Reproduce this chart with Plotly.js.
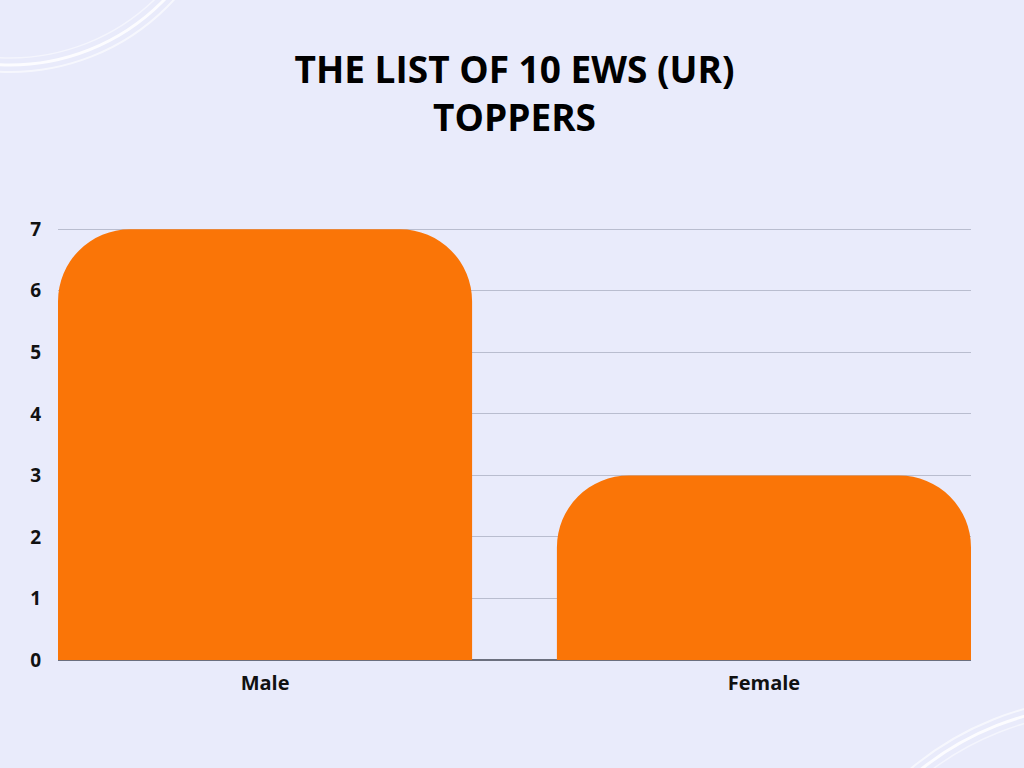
<!DOCTYPE html>
<html>
<head>
<meta charset="utf-8">
<script src="https://cdn.plot.ly/plotly-3.0.1.min.js"></script>
<style>
  html, body { margin: 0; padding: 0; background: #E9EBFB; }
  #chart { width: 1024px; height: 768px; }
</style>
</head>
<body>
<div id="chart"></div>
<script>
const categories = ["Male", "Female"];
const counts = [7, 3];
const yTicks = [0, 1, 2, 3, 4, 5, 6, 7];
const chartTitle = "THE LIST OF 10 EWS (UR)<br>TOPPERS";

const W = 1024, H = 768;
const L = 58, R = 53, T = 217, B = 108;
const pw = W - L - R, ph = H - T - B;
function px(x) { return (x - L) / pw; }
function py(y) { return (H - B - y) / ph; }
function circ(cx, cy, r, w, op) {
  return { type: 'circle', xref: 'paper', yref: 'paper', layer: 'below',
    x0: px(cx - r), x1: px(cx + r), y0: py(cy + r), y1: py(cy - r),
    line: { color: 'rgba(255,255,255,' + op + ')', width: w } };
}

const trace = {
  type: 'bar',
  x: categories,
  y: counts,
  width: 0.83,
  marker: { color: '#FA7507', line: { width: 0 } },
  hoverinfo: 'skip'
};

const layout = {
  width: W, height: H,
  paper_bgcolor: '#E9EBFB',
  plot_bgcolor: '#E9EBFB',
  margin: { l: L, r: R, t: T, b: B },
  barcornerradius: 72,
  showlegend: false,
  title: {
    text: chartTitle,
    x: 0.5, xref: 'paper', xanchor: 'center',
    y: 1 - 83 / H, yref: 'container', yanchor: 'top',
    font: { family: 'Open Sans, Lato, sans-serif', size: 37, color: '#000000', weight: 700, lineposition: 'none' }
  },
  xaxis: {
    type: 'category',
    range: [-0.415, 1.415],
    showgrid: false,
    showline: false,
    zeroline: false,
    ticks: '',
    ticklabelstandoff: 9,
    tickfont: { family: 'Open Sans, Lato, sans-serif', size: 20, color: '#111111', weight: 700 }
  },
  yaxis: {
    range: [0, 7.2],
    tickvals: yTicks,
    ticktext: yTicks.map(String),
    showgrid: true,
    gridcolor: '#B9BDCF',
    gridwidth: 1,
    zeroline: true,
    zerolinecolor: '#6B6F7E',
    zerolinewidth: 2,
    showline: false,
    ticks: '',
    ticklabelstandoff: 16,
    tickfont: { family: 'Open Sans, Lato, sans-serif', size: 19, color: '#111111', weight: 700 }
  },
  shapes: [
    circ(10, -150, 215, 3, 0.85),
    circ(10, -150, 222, 2, 0.6),
    circ(10, -150, 208, 1.5, 0.5),
    circ(1105, 1000, 295, 3, 0.85),
    circ(1105, 1000, 302, 2, 0.6),
    circ(1105, 1000, 288, 1.5, 0.5)
  ]
};

Plotly.newPlot('chart', [trace], layout, { displayModeBar: false, staticPlot: true });
</script>
</body>
</html>
